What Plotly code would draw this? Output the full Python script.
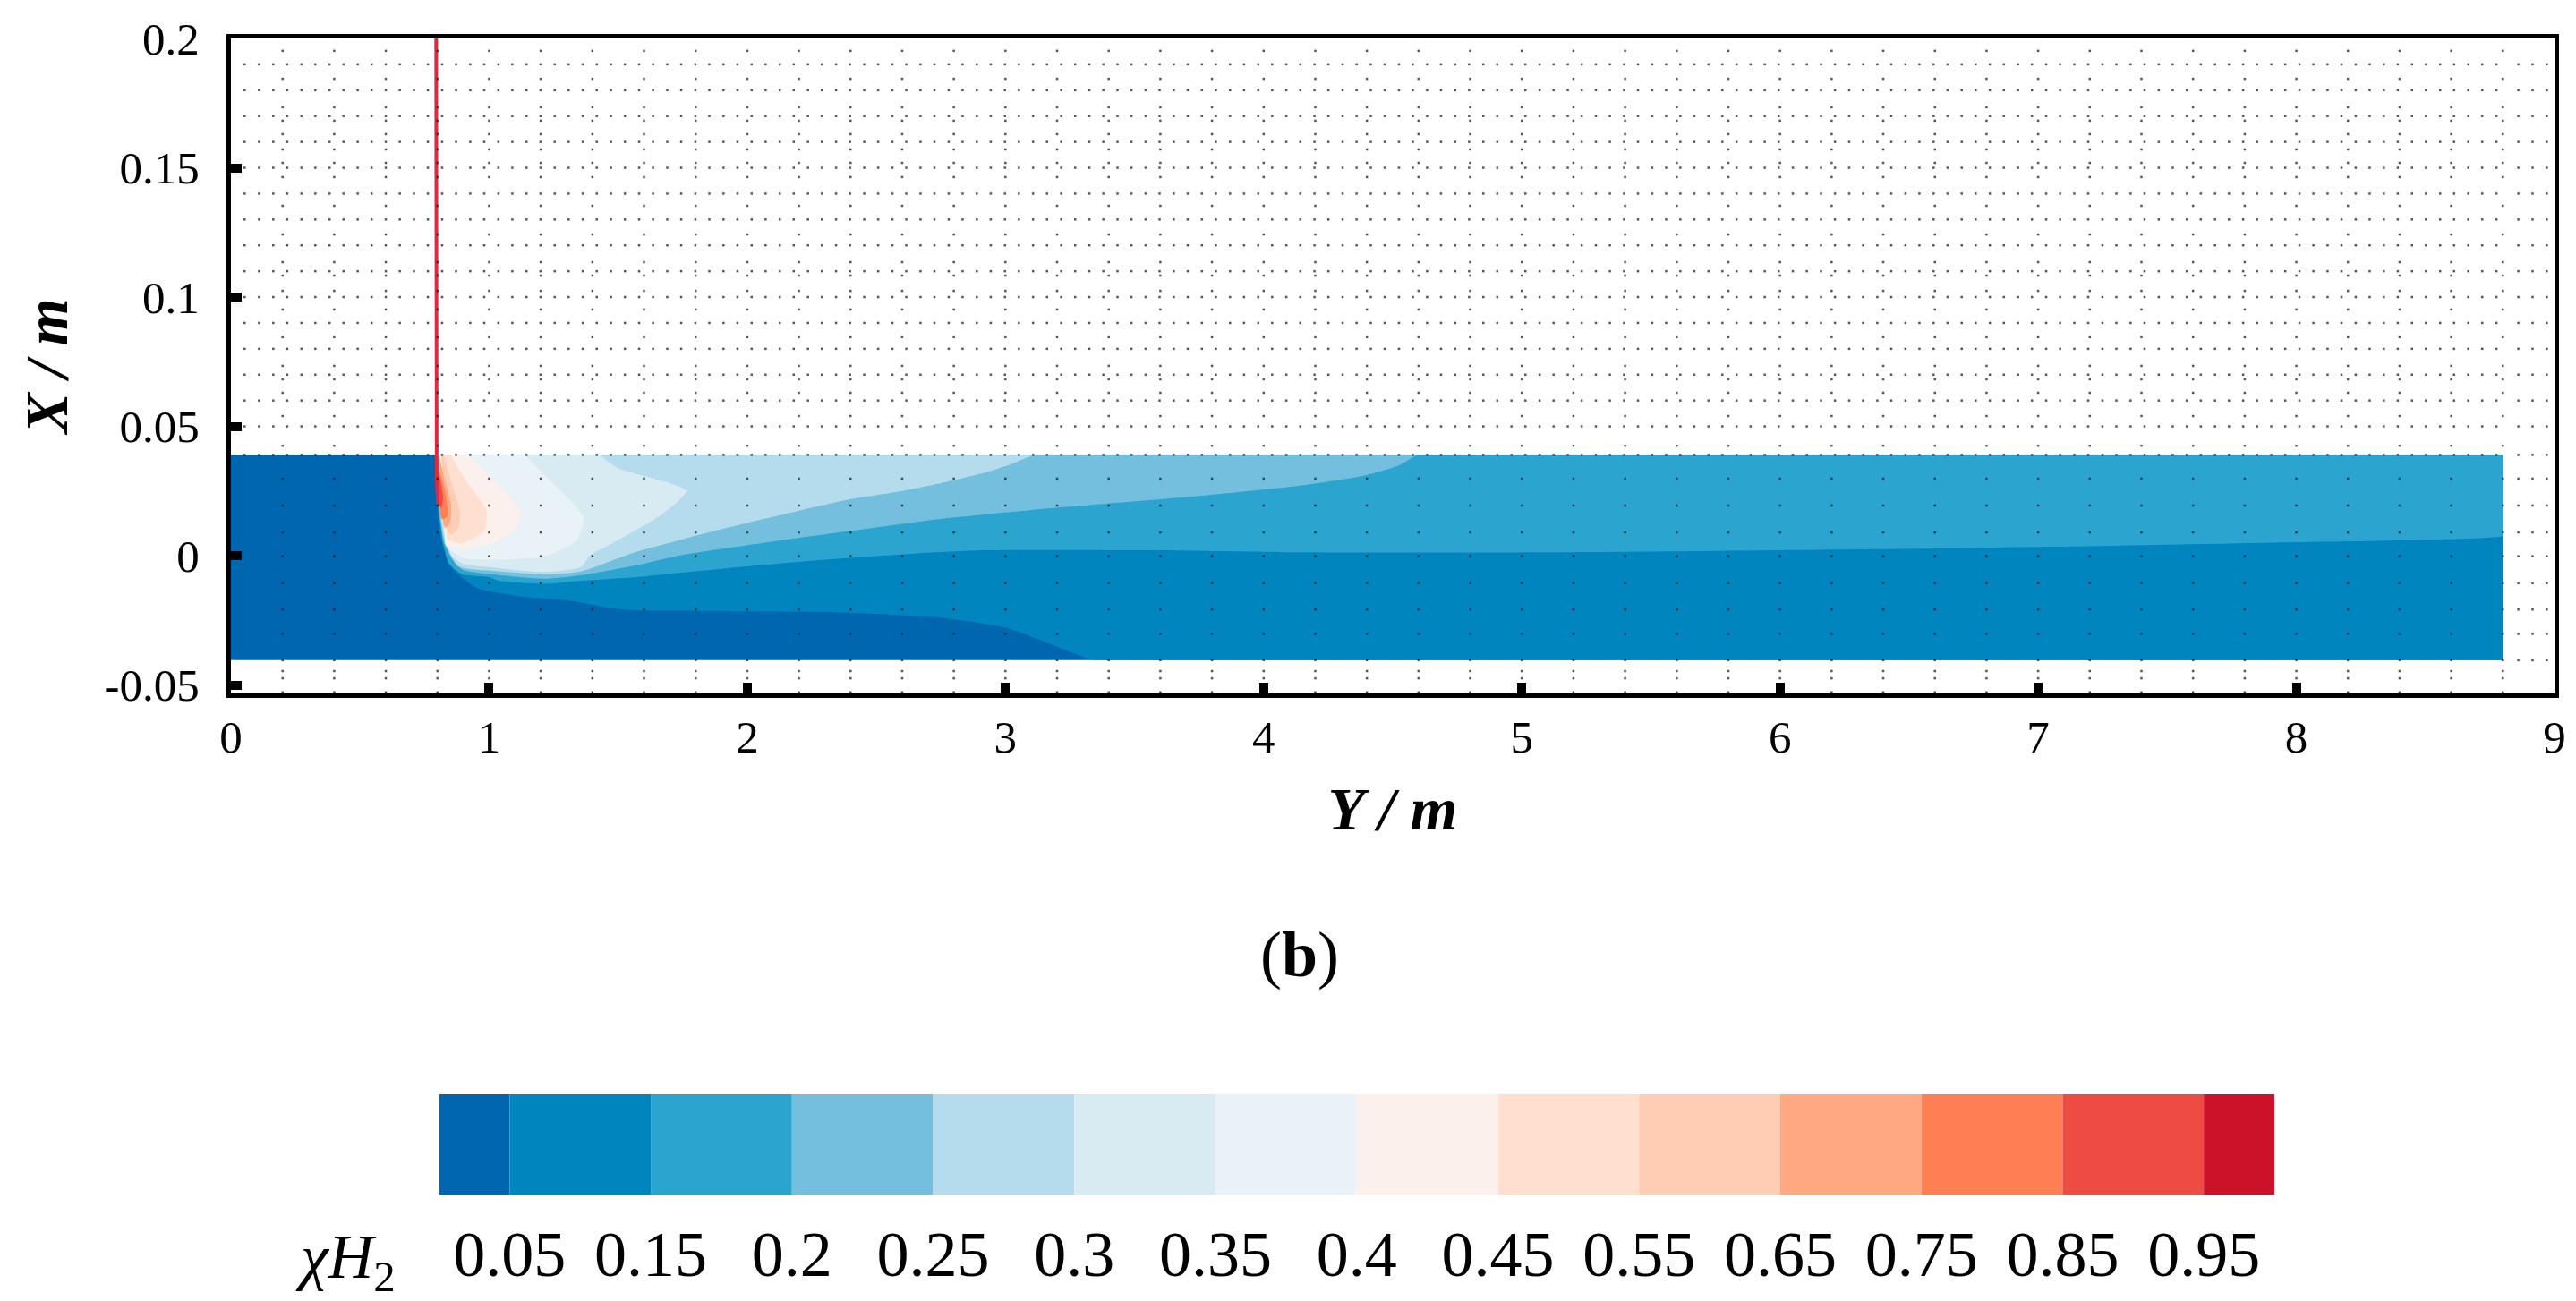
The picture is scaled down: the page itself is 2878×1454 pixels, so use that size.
import plotly.graph_objects as go

W, H = 2878, 1454
SERIF = "Liberation Serif"

# ---------- colour scale ----------
level_labels = ["0.05", "0.15", "0.2", "0.25", "0.3", "0.35", "0.4", "0.45", "0.55", "0.65", "0.75", "0.85", "0.95"]
band_colors = ["#0066B0", "#0085BE", "#2BA5D0", "#75BFDE", "#B4DCEC", "#D8EBF3", "#E9F2F6",
               "#FBF0EC", "#FFE0D0", "#FFCDB4", "#FFA882", "#FF7F55", "#EE4C42", "#CC1229"]
band_left = [-0.5, 0, 1, 2, 3, 4, 5, 6, 7, 8, 9, 10, 11, 12]
band_width = [0.5, 1, 1, 1, 1, 1, 1, 1, 1, 1, 1, 1, 1, 0.5]
level_index = [0, 1, 2, 3, 4, 5, 6, 7, 8, 9, 10, 11, 12]

# ---------- domain and contour boundaries (Y/m along x, X/m along y) ----------
domain_x = [0, 8.8, 8.8, 0]
domain_y = [0.039, 0.039, -0.0404, -0.0404]

c005_x = [0.79, 0.795, 0.805, 0.817, 0.862, 0.95, 1.127, 1.322, 1.481, 1.596, 1.80, 2.01, 2.19, 2.401, 2.747, 3.006, 3.178, 3.34, 3.35, 8.79, 8.8, 8.8, 8.8]
c005_y = [0.039, 0.025, 0.013, 0.005, -0.0054, -0.0123, -0.0158, -0.0175, -0.0204, -0.0212, -0.0213, -0.0215, -0.0217, -0.0221, -0.0239, -0.0279, -0.0343, -0.0404, -0.0404, -0.0404, -0.0404, -0.0398, 0.039]

c015_x = [0.795, 0.80, 0.81, 0.822, 0.844, 0.897, 0.996, 1.039, 1.216, 1.358, 1.57, 1.924, 2.278, 2.401, 2.66, 2.92, 3.54, 4.13, 5.11, 6.74, 7.78, 8.8, 8.8, 8.8]
c015_y = [0.039, 0.025, 0.013, 0.005, -0.0031, -0.0072, -0.0082, -0.0097, -0.0109, -0.0097, -0.0083, -0.0048, -0.0017, -0.0008, 0.0009, 0.0021, 0.0021, 0.0013, 0.0013, 0.003, 0.0048, 0.0076, 0.0082, 0.039]

c02_x = [0.797, 0.802, 0.812, 0.825, 0.862, 0.897, 1.039, 1.216, 1.358, 1.57, 1.747, 2.10, 2.401, 2.747, 3.092, 3.437, 3.78, 4.127, 4.385, 4.525, 4.594]
c02_y = [0.039, 0.025, 0.013, 0.005, -0.002, -0.0054, -0.0075, -0.0089, -0.0075, -0.0037, 0.0003, 0.0055, 0.0096, 0.0142, 0.0176, 0.0205, 0.0234, 0.0269, 0.0309, 0.035, 0.039]

c025_x = [0.80, 0.805, 0.815, 0.83, 0.88, 1.039, 1.216, 1.358, 1.57, 1.924, 2.278, 2.401, 2.574, 2.747, 2.92, 3.024, 3.11]
c025_y = [0.039, 0.025, 0.013, 0.005, -0.004, -0.006, -0.0072, -0.006, 0.0015, 0.0108, 0.0192, 0.0219, 0.0246, 0.028, 0.0321, 0.0355, 0.039]

c03_x = [0.805, 0.81, 0.82, 0.835, 0.852, 0.897, 1.039, 1.216, 1.358, 1.393, 1.481, 1.676, 1.764, 1.64, 1.499, 1.427]
c03_y = [0.039, 0.025, 0.013, 0.006, 0.0003, -0.0031, -0.0048, -0.0063, -0.0043, 0.0003, 0.005, 0.0165, 0.0251, 0.0298, 0.0338, 0.039]

c035_x = [0.81, 0.815, 0.825, 0.835, 0.897, 1.039, 1.216, 1.34, 1.366, 1.269, 1.136]
c035_y = [0.039, 0.025, 0.013, 0.0038, -0.0008, -0.0015, -0.0002, 0.0061, 0.0147, 0.0257, 0.039]

c04_x = [0.812, 0.818, 0.828, 0.834, 0.886, 1.003, 1.094, 1.124, 1.013, 0.916]
c04_y = [0.039, 0.025, 0.012, 0.0038, 0.0027, 0.0045, 0.0096, 0.0165, 0.029, 0.039]

c045_x = [0.815, 0.82, 0.83, 0.84, 0.898, 0.98, 0.99, 0.91, 0.852]
c045_y = [0.039, 0.025, 0.012, 0.0062, 0.0049, 0.0096, 0.0176, 0.029, 0.039]

c055_x = [0.815, 0.82, 0.83, 0.852, 0.885, 0.886, 0.852, 0.824]
c055_y = [0.039, 0.025, 0.012, 0.008, 0.0118, 0.0176, 0.029, 0.039]

c065_x = [0.805, 0.81, 0.822, 0.83, 0.85, 0.852, 0.823, 0.806]
c065_y = [0.039, 0.025, 0.013, 0.0107, 0.0131, 0.02, 0.0315, 0.039]

c075_x = [0.80, 0.805, 0.817, 0.838, 0.83, 0.80]
c075_y = [0.038, 0.025, 0.0142, 0.0152, 0.0246, 0.035]

c085_x = [0.797, 0.80, 0.815, 0.822, 0.81, 0.80]
c085_y = [0.035, 0.022, 0.0185, 0.022, 0.03, 0.035]

contours_x = [domain_x, c005_x, c015_x, c02_x, c025_x, c03_x, c035_x, c04_x, c045_x, c055_x, c065_x, c075_x, c085_x]
contours_y = [domain_y, c005_y, c015_y, c02_y, c025_y, c03_y, c035_y, c04_y, c045_y, c055_y, c065_y, c075_y, c085_y]

# ---------- injector line ----------
jet_x = [0.795, 0.795, 0.797, 0.802]
jet_y = [0.2, 0.04, 0.03, 0.0194]

# ---------- mesh dots seen in the picture ----------
mesh_dense_x = [0.053, 0.109, 0.164, 0.218, 0.273, 0.327, 0.382, 0.436, 0.491, 0.545,
                0.6, 0.654, 0.709, 0.763, 0.818, 0.872, 0.927, 0.981, 1.036, 1.09,
                1.145, 1.199, 1.254, 1.308, 1.363, 1.417, 1.472, 1.526, 1.581, 1.635,
                1.69, 1.744, 1.799, 1.853, 1.908, 1.962, 2.017, 2.071, 2.126, 2.18,
                2.235, 2.289, 2.344, 2.398, 2.453, 2.507, 2.562, 2.616, 2.671, 2.725,
                2.78, 2.834, 2.889, 2.943, 2.998, 3.052, 3.107, 3.161, 3.216, 3.27,
                3.325, 3.379, 3.434, 3.488, 3.543, 3.597, 3.652, 3.706, 3.761, 3.815,
                3.87, 3.924, 3.979, 4.033, 4.088, 4.142, 4.197, 4.251, 4.306, 4.36,
                4.415, 4.469, 4.524, 4.578, 4.633, 4.687, 4.742, 4.796, 4.851, 4.905,
                4.96, 5.014, 5.069, 5.123, 5.178, 5.232, 5.287, 5.341, 5.396, 5.45,
                5.505, 5.559, 5.614, 5.668, 5.723, 5.777, 5.832, 5.886, 5.941, 5.995,
                6.05, 6.104, 6.159, 6.213, 6.268, 6.322, 6.377, 6.431, 6.486, 6.54,
                6.595, 6.649, 6.704, 6.758, 6.813, 6.867, 6.922, 6.976, 7.031, 7.085,
                7.14, 7.194, 7.249, 7.303, 7.358, 7.412, 7.467, 7.521, 7.576, 7.63,
                7.685, 7.739, 7.794, 7.848, 7.903, 7.957, 8.012, 8.066, 8.121, 8.175,
                8.23, 8.284, 8.339, 8.393, 8.448, 8.502, 8.557, 8.611, 8.666, 8.72,
                8.775, 8.86, 8.915, 8.97]
mesh_dense_y = [0.19, 0.18, 0.17, 0.16, 0.15, 0.14, 0.13, 0.12, 0.11, 0.10,
                0.09, 0.08, 0.07, 0.06, 0.05, 0.039]
mesh_columns_x = [0.2, 0.4, 0.6, 0.8, 1.0, 1.2, 1.4, 1.6, 1.8, 2.0, 2.2, 2.4, 2.6, 2.8, 3.0, 3.2, 3.4, 3.6, 3.8, 4.0, 4.2, 4.4,
                  4.6, 4.8, 5.0, 5.2, 5.4, 5.6, 5.8, 6.0, 6.2, 6.4, 6.6, 6.8, 7.0, 7.2, 7.4, 7.6, 7.8, 8.0, 8.2, 8.4, 8.6, 8.8]
mesh_columns_y = [0.1952, 0.1844, 0.1734, 0.1682, 0.163, 0.1571, 0.1519, 0.1464, 0.1353, 0.1242, 0.1135, 0.1083,
                  0.1024, 0.0952, 0.0845, 0.0734, 0.0682, 0.063, 0.054, 0.0425,
                  0.0298, 0.0194, 0.009, -0.0002, -0.0106, -0.0208, -0.0302, -0.0404, -0.0446, -0.0474, -0.0528]
mesh_right_x = [8.86, 8.915, 8.97]
mesh_right_y = [0.0298, 0.0194, 0.009, -0.0002, -0.0106, -0.0208, -0.0302, -0.0404]

# ---------- axis ticks ----------
x_ticks = [0, 1, 2, 3, 4, 5, 6, 7, 8, 9]
y_ticks = [-0.05, 0, 0.05, 0.1, 0.15, 0.2]
y_tick_text = ["-0.05", "0", "0.05", "0.1", "0.15", "0.2"]

fig = go.Figure()

for i, (cx, cy) in enumerate(zip(contours_x, contours_y)):
    line = dict(width=0, color=band_colors[i], shape="linear" if i == 0 else "spline", smoothing=0.6)
    fig.add_trace(go.Scatter(x=cx, y=cy, mode="lines", fill="toself", fillcolor=band_colors[i],
                             line=line, hoverinfo="skip", showlegend=False, xaxis="x", yaxis="y"))

fig.add_trace(go.Scatter(x=jet_x, y=jet_y, mode="lines", line=dict(color="#DC2A40", width=4),
                         hoverinfo="skip", showlegend=False))

dots_x = [x for _ in mesh_dense_y for x in mesh_dense_x]
dots_y = [y for y in mesh_dense_y for _ in mesh_dense_x]
dots_x += [x for _ in mesh_columns_y for x in mesh_columns_x]
dots_y += [y for y in mesh_columns_y for _ in mesh_columns_x]
dots_x += [x for _ in mesh_right_y for x in mesh_right_x]
dots_y += [y for y in mesh_right_y for _ in mesh_right_x]
fig.add_trace(go.Scatter(x=dots_x, y=dots_y, mode="markers",
                         marker=dict(symbol="square", size=2.5, color="rgba(30,30,30,0.75)", line=dict(width=0)),
                         hoverinfo="skip", showlegend=False))

fig.add_trace(go.Bar(x=band_width, base=band_left, y=[0] * len(band_width), orientation="h", width=1,
                     marker=dict(color=band_colors, line=dict(width=0)), hoverinfo="skip",
                     showlegend=False, xaxis="x2", yaxis="y2"))

tick_font = dict(family=SERIF, size=51, color="black")
title_font = dict(family=SERIF, size=68, color="black", weight="bold", style="italic")

fig.update_layout(
    width=W, height=H, autosize=False,
    margin=dict(l=0, r=0, t=0, b=0, autoexpand=False),
    paper_bgcolor="white", plot_bgcolor="white",
    barmode="overlay",
    xaxis=dict(domain=[258 / W, 2854 / W], range=[0, 9], tickmode="array", tickvals=x_ticks, automargin=False,
               ticks="inside", ticklen=12, tickwidth=10, tickcolor="black",
               showline=True, linewidth=5, linecolor="black", mirror=True, showgrid=False, zeroline=False,
               tickfont=tick_font, ticklabelstandoff=0,
               title=dict(text="Y / m", font=title_font, standoff=30), anchor="y"),
    yaxis=dict(domain=[1 - 775 / H, 1 - 43 / H], range=[-0.05325, 0.2], tickmode="array", tickvals=y_ticks,
               ticktext=y_tick_text, ticks="inside", ticklen=12, tickwidth=10, tickcolor="black", automargin=False,
               showline=True, linewidth=5, linecolor="black", mirror=True, showgrid=False, zeroline=False,
               tickfont=tick_font, ticklabelstandoff=20,
               title=dict(text="X / m", font=title_font, standoff=20), anchor="x"),
    xaxis2=dict(domain=[490.5 / W, 2541 / W], range=[-0.5, 12.5], tickmode="array", tickvals=level_index, automargin=False,
                ticktext=level_labels, ticks="", showline=False, showgrid=False, zeroline=False,
                tickfont=dict(family=SERIF, size=72, color="black"), ticklabelstandoff=18, anchor="y2"),
    yaxis2=dict(domain=[1 - 1335 / H, 1 - 1223 / H], range=[-0.5, 0.5], visible=False, anchor="x2", automargin=False),
    annotations=[
        dict(text="(<b>b</b>)", x=1452 / W, y=1 - 1067 / H, xref="paper", yref="paper", showarrow=False,
             font=dict(family=SERIF, size=72, color="black"), xanchor="center", yanchor="middle"),
        dict(text="<i>χH</i><sub>2</sub>", x=386 / W, y=1 - 1410 / H, xref="paper", yref="paper", showarrow=False,
             font=dict(family=SERIF, size=70, color="black"), xanchor="center", yanchor="middle"),
    ],
)

fig.write_html("out.html", config=dict(displayModeBar=False),
               post_script="document.body.style.margin='0';document.body.style.overflow='hidden';")
